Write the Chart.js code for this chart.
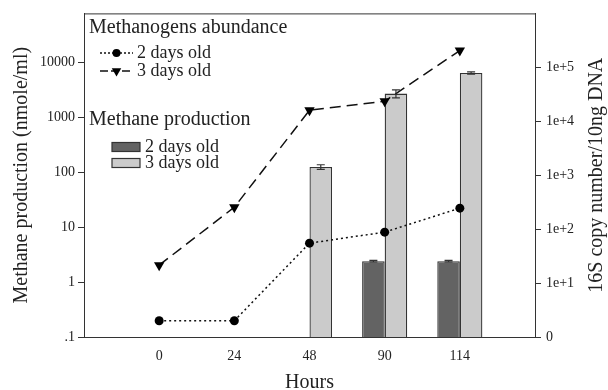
<!DOCTYPE html>
<html>
<head>
<meta charset="utf-8">
<script src="https://cdn.jsdelivr.net/npm/chart.js@4/dist/chart.umd.min.js"></script>
<style>
  html, body { margin: 0; padding: 0; background: #fff; }
  #wrap { width: 608px; height: 390px; position: relative; }
</style>
</head>
<body>
<div id="wrap"><canvas id="chart"></canvas></div>
<script>
// sampling times (hours)
const hours = ['0', '24', '48', '90', '114'];

// methane production, nmole/ml (left axis, bars)
const methane2 = [null, null, null, 2.4, 2.4];
const methane2Err = [null, null, null, 0.08, 0.08];
const methane3 = [null, null, 125, 2700, 6400];
const methane3Err = [null, null, 12, 450, 300];

// methanogens abundance, 16S copies / 10ng DNA (right axis, lines)
const abundance2 = [2, 2, 55, 88, 245];
const abundance3 = [21.5, 255, 16000, 23500, 205000];

// tick labels
const leftTicks = [0.1, 1, 10, 100, 1000, 10000];
const leftTickLabels = ['.1', '1', '10', '100', '1000', '10000'];
const rightTicks = [1, 10, 100, 1000, 10000, 100000];
const rightTickLabels = ['0', '1e+1', '1e+2', '1e+3', '1e+4', '1e+5'];

const SERIF = "'Liberation Serif', 'DejaVu Serif', serif";
const INK = '#222';

// blank slots either side so the five hours sit on an evenly spaced axis
const pad = (arr) => [null, ...arr, null];
const labels = ['', ...hours, ''];

const errorBars = {
    id: 'errorBars',
    afterDatasetsDraw(chart) {
        const { ctx } = chart;
        const errs = { 2: methane2Err, 3: methane3Err };
        ctx.save();
        ctx.strokeStyle = '#333';
        ctx.lineWidth = 1.2;
        [2, 3].forEach((dsIndex) => {
            const meta = chart.getDatasetMeta(dsIndex);
            const yScale = chart.scales[meta.yAxisID];
            const vals = chart.data.datasets[dsIndex].data;
            meta.data.forEach((bar, i) => {
                const e = errs[dsIndex][i - 1];
                if (e == null || vals[i] == null) return;
                const yTop = yScale.getPixelForValue(vals[i] + e);
                const yBot = yScale.getPixelForValue(vals[i] - e);
                const x = bar.x;
                ctx.beginPath();
                ctx.moveTo(x, yTop); ctx.lineTo(x, yBot);
                ctx.moveTo(x - 4, yTop); ctx.lineTo(x + 4, yTop);
                ctx.moveTo(x - 4, yBot); ctx.lineTo(x + 4, yBot);
                ctx.stroke();
            });
        });
        ctx.restore();
    }
};

const frameAndLegend = {
    id: 'frameAndLegend',
    afterDraw(chart) {
        const { ctx, chartArea } = chart;
        const ds = chart.data.datasets;
        ctx.save();
        // top border of the frame
        ctx.strokeStyle = '#333';
        ctx.lineWidth = 1;
        ctx.beginPath();
        ctx.moveTo(chartArea.left, chartArea.top + 0.5);
        ctx.lineTo(chartArea.right, chartArea.top + 0.5);
        ctx.stroke();

        // right axis title, reading bottom to top
        ctx.save();
        ctx.fillStyle = INK;
        ctx.font = `20px ${SERIF}`;
        ctx.textAlign = 'center';
        ctx.textBaseline = 'middle';
        ctx.translate(597, (chartArea.top + chartArea.bottom) / 2);
        ctx.rotate(-Math.PI / 2);
        ctx.fillText('16S copy number/10ng DNA', 0, 0);
        ctx.restore();

        ctx.fillStyle = INK;
        ctx.textBaseline = 'middle';
        ctx.textAlign = 'left';
        ctx.font = `20px ${SERIF}`;
        ctx.fillText('Methanogens abundance', 89, 28);
        ctx.fillText('Methane production', 89, 120);

        ctx.font = `18px ${SERIF}`;
        // line entries
        [[0, 53], [1, 71]].forEach(([i, y]) => {
            const d = ds[i];
            ctx.save();
            ctx.strokeStyle = d.borderColor;
            ctx.lineWidth = d.borderWidth;
            ctx.setLineDash(i === 0 ? [2, 2] : [8, 3]);
            ctx.beginPath();
            ctx.moveTo(100, y); ctx.lineTo(133, y);
            ctx.stroke();
            ctx.restore();
            ctx.fillStyle = d.pointBackgroundColor;
            Chart.helpers.drawPoint(ctx, {
                pointStyle: d.pointStyle,
                radius: d.pointRadius - 0.5,
                rotation: d.pointRotation || 0,
                borderWidth: 0
            }, 116.5, y);
            ctx.fillStyle = INK;
            ctx.fillText(d.label, 137, y);
        });
        // bar entries
        [[2, 147], [3, 163]].forEach(([i, y]) => {
            const d = ds[i];
            ctx.fillStyle = d.backgroundColor;
            ctx.fillRect(112, y - 4.5, 28, 9);
            ctx.strokeStyle = d.borderColor;
            ctx.lineWidth = 1.2;
            ctx.strokeRect(112, y - 4.5, 28, 9);
            ctx.fillStyle = INK;
            ctx.fillText(d.label, 145, y);
        });
        ctx.restore();
    }
};

new Chart(document.getElementById('chart'), {
    type: 'bar',
    data: {
        labels,
        datasets: [
            {
                type: 'line',
                label: '2 days old',
                data: pad(abundance2),
                yAxisID: 'y2',
                order: 0,
                borderColor: '#111',
                borderWidth: 1.5,
                borderDash: [2, 3],
                pointStyle: 'circle',
                pointRadius: 4.5,
                pointBackgroundColor: '#000',
                pointBorderWidth: 0,
                tension: 0
            },
            {
                type: 'line',
                label: '3 days old',
                data: pad(abundance3),
                yAxisID: 'y2',
                order: 0,
                borderColor: '#111',
                borderWidth: 1.5,
                borderDash: [11, 6],
                pointStyle: 'triangle',
                pointRotation: 180,
                pointRadius: 6,
                pointBackgroundColor: '#000',
                pointBorderWidth: 0,
                tension: 0
            },
            {
                label: '2 days old',
                data: pad(methane2),
                yAxisID: 'y',
                order: 1,
                backgroundColor: '#636363',
                borderColor: '#333',
                borderWidth: 1.3,
                categoryPercentage: 0.6,
                barPercentage: 1
            },
            {
                label: '3 days old',
                data: pad(methane3),
                yAxisID: 'y',
                order: 1,
                backgroundColor: '#cbcbcb',
                borderColor: '#333',
                borderWidth: 1.3,
                categoryPercentage: 0.6,
                barPercentage: 1
            }
        ]
    },
    options: {
        responsive: true,
        maintainAspectRatio: false,
        animation: false,
        layout: { padding: { top: 13, left: 0, right: 0, bottom: 0 } },
        plugins: { legend: { display: false }, tooltip: { enabled: false } },
        scales: {
            x: {
                offset: false,
                grid: { display: false },
                border: { display: true, color: '#333', width: 1 },
                ticks: { color: INK, font: { family: SERIF, size: 14 }, padding: 3, maxRotation: 0, autoSkip: false },
                title: { display: true, text: 'Hours', color: INK, font: { family: SERIF, size: 20, lineHeight: 0.7 }, padding: 0 },
                afterFit: (scale) => { scale.height = 53; }
            },
            y: {
                type: 'logarithmic',
                position: 'left',
                min: 0.1,
                max: 78000,
                grid: { drawOnChartArea: false, tickLength: 6, color: '#333' },
                border: { display: true, color: '#333', width: 1 },
                ticks: {
                    color: INK, font: { family: SERIF, size: 14 }, padding: 3,
                    callback: (v) => leftTickLabels[leftTicks.indexOf(v)] ?? ''
                },
                afterBuildTicks: (scale) => { scale.ticks = leftTicks.map((v) => ({ value: v })); },
                title: { display: true, text: 'Methane production (nmole/ml)', color: INK, font: { family: SERIF, size: 20, lineHeight: 1 }, padding: { top: 12, bottom: 0 } },
                afterFit: (scale) => { scale.width = 84; }
            },
            y2: {
                type: 'logarithmic',
                position: 'right',
                min: 1,
                max: 1000000,
                grid: { drawOnChartArea: false, tickLength: 6, color: '#333' },
                border: { display: true, color: '#333', width: 1 },
                ticks: {
                    color: INK, font: { family: SERIF, size: 14 }, padding: 5,
                    callback: (v) => rightTickLabels[rightTicks.indexOf(v)] ?? ''
                },
                afterBuildTicks: (scale) => { scale.ticks = rightTicks.map((v) => ({ value: v })); },
                title: { display: false },
                afterFit: (scale) => { scale.width = 73; }
            }
        }
    },
    plugins: [errorBars, frameAndLegend]
});
</script>
</body>
</html>
